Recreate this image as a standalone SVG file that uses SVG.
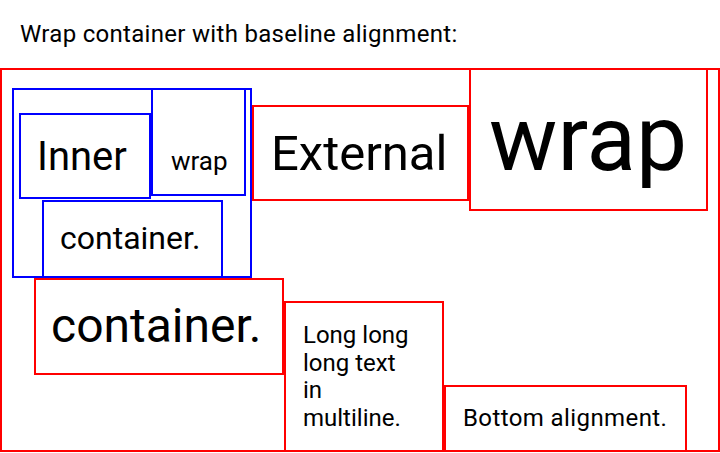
<svg xmlns="http://www.w3.org/2000/svg" width="720" height="453" viewBox="0 0 720 453">
  <style>
    .t { font-family: Roboto, "Noto Sans", sans-serif; fill: #000; }
    .red { fill: none; stroke: #ff0000; stroke-width: 2; }
    .blue { fill: none; stroke: #0000ff; stroke-width: 2; }
  </style>
  <rect width="720" height="453" fill="#fff"/>
  <text class="t" x="20" y="42" font-size="24" letter-spacing="0.3">Wrap container with baseline alignment:</text>

  <!-- outer wrap container -->
  <g id="outer">
    <rect class="red" x="1" y="69" width="718" height="382"/>
  </g>

  <!-- nested container -->
  <g id="inner-container">
    <rect class="blue" x="13" y="89" width="238" height="188"/>
  </g>
  <g id="inner-inner">
    <rect class="blue" x="20" y="114" width="130" height="84"/>
    <text class="t" x="37" y="170" font-size="40">Inner</text>
  </g>
  <g id="inner-wrap">
    <rect class="blue" x="152" y="89" width="93" height="106"/>
    <text class="t" x="171" y="170" font-size="26">wrap</text>
  </g>
  <g id="inner-container-text">
    <rect class="blue" x="43" y="201" width="179" height="76"/>
    <text class="t" x="60" y="249" font-size="32">container.</text>
  </g>

  <g id="external">
    <rect class="red" x="253" y="106" width="215" height="94"/>
    <text class="t" x="271" y="170" font-size="49">External</text>
  </g>
  <g id="wrap">
    <rect class="red" x="470" y="69" width="237" height="141"/>
    <text class="t" x="489" y="170" font-size="91">wrap</text>
  </g>
  <g id="container">
    <rect class="red" x="35" y="279" width="248" height="95"/>
    <text class="t" x="51" y="342" font-size="48">container.</text>
  </g>
  <g id="multiline">
    <rect class="red" x="285" y="302" width="158" height="149"/>
    <text class="t" font-size="24">
      <tspan x="303" y="343">Long long</tspan>
      <tspan x="303" y="370.5">long text</tspan>
      <tspan x="303" y="398">in</tspan>
      <tspan x="303" y="425.5">multiline.</tspan>
    </text>
  </g>
  <g id="bottom">
    <rect class="red" x="445" y="386" width="241" height="65"/>
    <text class="t" x="463" y="426" font-size="24" letter-spacing="0.4">Bottom alignment.</text>
  </g>
</svg>
